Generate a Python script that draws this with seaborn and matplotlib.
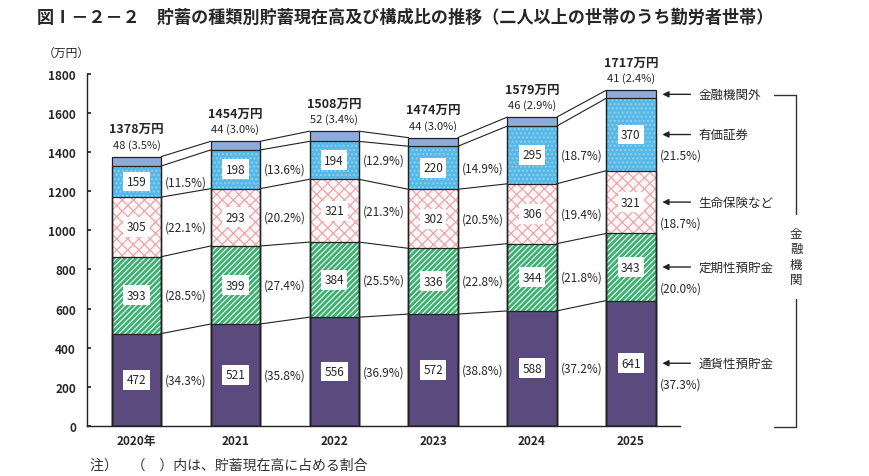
import matplotlib
matplotlib.use("Agg")
import matplotlib.pyplot as plt
import seaborn as sns
import numpy as np

# data (万円)
years = ["2020年", "2021", "2022", "2023", "2024", "2025"]
totals = ["1378万円", "1454万円", "1508万円", "1474万円", "1579万円", "1717万円"]
tsuka = [472, 521, 556, 572, 588, 641]        # 通貨性預貯金
teiki = [393, 399, 384, 336, 344, 343]        # 定期性預貯金
seimei = [305, 293, 321, 302, 306, 321]       # 生命保険など
yuka = [159, 198, 194, 220, 295, 370]         # 有価証券
gai = [48, 44, 52, 44, 46, 41]                # 金融機関外
tsuka_pct = [34.3, 35.8, 36.9, 38.8, 37.2, 37.3]
teiki_pct = [28.5, 27.4, 25.5, 22.8, 21.8, 20.0]
seimei_pct = [22.1, 20.2, 21.3, 20.5, 19.4, 18.7]
yuka_pct = [11.5, 13.6, 12.9, 14.9, 18.7, 21.5]
gai_pct = [3.5, 3.0, 3.4, 3.0, 2.9, 2.4]
names = ["通貨性預貯金", "定期性預貯金", "生命保険など", "有価証券", "金融機関外"]

sns.set_theme(style="white")
plt.rcParams['font.family'] = ['Noto Sans CJK JP', 'DejaVu Sans']
plt.rcParams['hatch.linewidth'] = 1.2

layers = [tsuka, teiki, seimei, yuka, gai]
pcts = [tsuka_pct, teiki_pct, seimei_pct, yuka_pct, gai_pct]
cum = np.cumsum(np.array(layers), axis=0)
# (face, hatch colour, hatch, hatch lw)
styles = [("#5b4a7e", "#5b4a7e", None, 1),
          ("#dff4e8", "#3cae72", "//////", 1.9),
          ("#fff6f6", "#eba6ae", "xxx", 0.9),
          ("#55b8e6", "#8fd0ee", "....", 1.0),
          ("#8cacdc", "#8cacdc", None, 1)]

fig = plt.figure(figsize=(8.7, 4.77), dpi=100)
ax = fig.add_axes([0.1, 0.105, 0.682, 0.738])

# stacked bars: draw tallest first, each lower layer covers the one beneath
for k in range(4, -1, -1):
    face, hc, hatch, hlw = styles[k]
    n0 = len(ax.patches)
    sns.barplot(x=years, y=cum[k], color=face, saturation=1, width=0.5,
                edgecolor=hc, linewidth=0, hatch=hatch, errorbar=None, ax=ax)
    for p in ax.patches[n0:]:
        if hasattr(p, "set_hatch_linewidth"):
            p.set_hatch_linewidth(hlw)
for k in range(5):
    sns.barplot(x=years, y=cum[k], fill=False, color="#222222", width=0.5,
                linewidth=0.9, errorbar=None, ax=ax)

# connecting lines between bars
for k in range(5):
    for i in range(5):
        ax.plot([i + 0.25, i + 0.75], [cum[k][i], cum[k][i + 1]],
                color="#222222", lw=0.8, zorder=1)

# value labels
for i in range(6):
    for k in range(4):
        mid = cum[k][i] - layers[k][i] / 2
        ax.text(i, mid, str(layers[k][i]), ha="center", va="center", fontsize=8.5,
                bbox=dict(facecolor="white", edgecolor="none", pad=2.5), zorder=5)
        if i < 5:
            ax.text(i + 0.5, mid, "(%.1f%%)" % pcts[k][i], ha="center", va="center",
                    fontsize=8.5)
        else:
            ax.text(i + 0.29, mid - 105, "(%.1f%%)" % pcts[k][i], ha="left",
                    va="center", fontsize=8.5)
    ax.annotate("%d (%.1f%%)" % (gai[i], gai_pct[i]), xy=(i, cum[4][i]),
                xytext=(0, 9), textcoords="offset points", ha="center", va="center",
                fontsize=8, annotation_clip=False)
    ax.annotate(totals[i], xy=(i, cum[4][i]), xytext=(0, 20),
                textcoords="offset points", ha="center", va="center",
                fontsize=9, fontweight="bold", annotation_clip=False)

# arrows and names on the right
for k in range(5):
    yk = cum[k][5] - layers[k][5] / 2
    ax.annotate("", xy=(5.29, yk), xytext=(5.63, yk),
                arrowprops=dict(arrowstyle="-|>", color="#222222", lw=1,
                                mutation_scale=9), annotation_clip=False)
    ax.text(5.68, yk, names[k], ha="left", va="center", fontsize=9)

# bracket for 金融機関
bx = 6.67
ax.plot([6.45, bx, bx], [1693, 1693, 1084], color="#333333", lw=1, clip_on=False)
ax.plot([bx, bx, 6.45], [650, -5, -5], color="#333333", lw=1, clip_on=False)
ax.text(bx, 867, "金\n融\n機\n関", ha="center", va="center", fontsize=9,
        linespacing=1.25)

ax.set_xlim(-0.5, 5.5)
ax.set_ylim(0, 1800)
ax.set_yticks(range(0, 1801, 200))
ax.set_xticks(range(6))
ax.set_xticklabels(years, fontsize=8.5, fontweight="bold")
ax.tick_params(axis="y", labelsize=8.5, direction="in", length=3, left=True, pad=8)
ax.tick_params(axis="x", length=0, pad=6)
for lab in ax.get_yticklabels():
    lab.set_fontweight("bold")
ax.set_xlabel("")
ax.set_ylabel("")
sns.despine(ax=ax)
ax.spines["left"].set_color("#222222")
ax.spines["bottom"].set_color("#222222")
ax.spines["left"].set_linewidth(1)
ax.spines["bottom"].set_linewidth(1)
ax.text(-0.95, 1910, "（万円）", ha="left", va="center", fontsize=8.5)

fig.text(0.042, 0.962, "図Ⅰ－２－２　貯蓄の種類別貯蓄現在高及び構成比の推移（二人以上の世帯のうち勤労者世帯）",
         ha="left", va="center", fontsize=12.3, fontweight="bold")
fig.text(0.103, 0.023, "注）　（　）内は、貯蓄現在高に占める割合", ha="left", va="center",
         fontsize=10, color="#333333")

fig.savefig("out.png", dpi=100)
